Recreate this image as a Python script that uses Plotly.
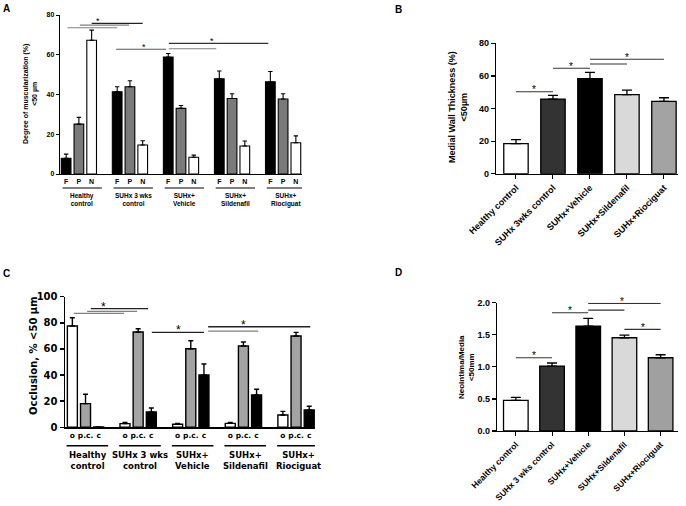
import plotly.graph_objects as go

W, H = 686, 506

# ---------------- data ----------------
# Panel A: degree of muscularization (%) <50 µm
A_groups = ["Healthy<br>control", "SUHx 3 wks<br>control", "SUHx+<br>Vehicle", "SUHx+<br>Sildenafil", "SUHx+<br>Riociguat"]
A_sub = ["F", "P", "N"]
A_F = [7.9, 41.4, 58.9, 47.9, 46.4]
A_F_sem = [2.1, 2.5, 1.7, 3.9, 5.2]
A_P = [25.1, 43.9, 33.0, 38.0, 37.7]
A_P_sem = [3.4, 3.0, 1.5, 2.4, 2.7]
A_N = [67.3, 14.6, 8.4, 14.1, 15.7]
A_N_sem = [5.1, 2.1, 1.1, 2.5, 3.5]
A_yticks = [0, 20, 40, 60, 80]

# Panel B: medial wall thickness (%) <50 µm
B_cats = ["Healthy control", "SUHx 3wks control", "SUHx+Vehicle", "SUHx+Sildenafil", "SUHx+Riociguat"]
B_vals = [18.4, 45.8, 58.3, 48.5, 44.4]
B_sem = [2.5, 2.3, 3.9, 2.8, 2.2]
B_yticks = [0, 20, 40, 60, 80]

# Panel C: occlusion % <50 µm
C_groups = ["Healthy<br>control", "SUHx 3 wks<br>control", "SUHx+<br>Vehicle", "SUHx+<br>Sildenafil", "SUHx+<br>Riociguat"]
C_sub = ["o", "p.c.", "c"]
C_o = [77.6, 2.8, 2.3, 3.0, 9.4]
C_o_sem = [6.3, 1.0, 0.7, 0.8, 2.8]
C_pc = [18.1, 73.0, 60.2, 62.3, 69.9]
C_pc_sem = [7.2, 2.5, 6.1, 3.0, 2.8]
C_c = [0.3, 11.7, 40.0, 24.7, 13.2]
C_c_sem = [0.0, 3.1, 8.5, 4.4, 2.9]
C_yticks = [0, 20, 40, 60, 80, 100]

# Panel D: neointima/media <50 mm
D_cats = ["Healthy control", "SUHx 3 wks control", "SUHx+Vehicle", "SUHx+Sildenafil", "SUHx+Riociguat"]
D_vals = [0.478, 1.012, 1.636, 1.454, 1.142]
D_sem = [0.047, 0.048, 0.119, 0.041, 0.047]
D_yticks = [0.0, 0.5, 1.0, 1.5, 2.0]

# significance brackets (x0, x1, y, color)
A_sig = [(-0.22, 0.75, 73.6, "#808080"), (0.02, 0.98, 74.9, "#808080"), (0.25, 1.25, 75.8, "#222222"),
         (0.73, 1.71, 62.8, "#555555"), (1.76, 3.71, 65.7, "#333333"), (1.76, 2.69, 63.0, "#808080")]
A_star = [(0.37, 75.8), (1.27, 62.8), (2.61, 65.7)]
B_sig = [(0, 1, 50.3), (1, 2, 64.7), (2, 3, 67.3), (2, 4, 70.2)]
B_star = [(0.5, 50.3), (1.5, 64.7), (3.0, 70.2)]
C_sig = [(-0.22, 0.73, 87.3, "#808080"), (0.03, 0.98, 88.8, "#808080"), (0.10, 1.19, 90.8, "#222222"),
         (1.26, 2.25, 72.7, "#222222"), (2.33, 3.28, 73.7, "#808080"), (2.33, 4.27, 77.0, "#222222")]
C_star = [(0.35, 90.8), (1.76, 72.7), (3.0, 77.0)]
D_sig = [(0, 1, 1.142), (1, 2, 1.843), (2, 3, 1.885), (2, 4, 1.99), (3, 4, 1.584)]
D_star = [(0.5, 1.142), (1.5, 1.843), (2.93, 1.99), (3.5, 1.584)]

ARIAL = "Liberation Sans, Arial, sans-serif"
VERD = "DejaVu Sans, Verdana, sans-serif"

def px(x):
    return x / W

def py(y):
    return 1 - y / H

fig = go.Figure()
off = [-0.25, 0.0, 0.25]

def add_bars(xa, ya, vals, sems, xs, colors, width, lw=1.2, cap=2.5):
    fig.add_trace(go.Bar(
        x=xs, y=vals, width=width, xaxis=xa, yaxis=ya, showlegend=False,
        marker=dict(color=colors, line=dict(color="black", width=lw)),
        error_y=dict(type="data", symmetric=False, array=sems, arrayminus=[0] * len(vals),
                     color="black", thickness=lw, width=cap)))

# Panel A bars
for k, (v, s, c) in enumerate([(A_F, A_F_sem, "black"), (A_P, A_P_sem, "#7a7a7a"), (A_N, A_N_sem, "white")]):
    add_bars("x", "y", v, s, [i + off[k] for i in range(5)], c, 0.19, lw=1.1, cap=2.2)
# Panel B bars
add_bars("x2", "y2", B_vals, B_sem, list(range(5)), ["white", "#333333", "black", "#d9d9d9", "#a3a3a3"], 0.66, lw=1.3, cap=5)
# Panel C bars
for k, (v, s, c) in enumerate([(C_o, C_o_sem, "white"), (C_pc, C_pc_sem, "#a3a3a3"), (C_c, C_c_sem, "black")]):
    add_bars("x3", "y3", v, s, [i + off[k] for i in range(5)], c, 0.19, lw=1.4, cap=2.5)
# Panel D bars
add_bars("x4", "y4", D_vals, D_sem, list(range(5)), ["white", "#333333", "black", "#d9d9d9", "#a0a0a0"], 0.68, lw=1.3, cap=5)

A_tv = [i + off[k] for i in range(5) for k in range(3)]
A_tt = [A_sub[k] for i in range(5) for k in range(3)]
C_tt = [C_sub[k] for i in range(5) for k in range(3)]

common_x = dict(showline=True, linecolor="black", showgrid=False, zeroline=False, fixedrange=True, automargin=False)
common_y = dict(showline=True, linecolor="black", showgrid=False, zeroline=False, ticks="outside",
                tickcolor="black", fixedrange=True, automargin=False)

fig.update_layout(
    template="none",
    width=W, height=H, margin=dict(l=0, r=0, t=0, b=0, autoexpand=False),
    paper_bgcolor="white", plot_bgcolor="white", barmode="overlay", bargap=0, showlegend=False,
    xaxis=dict(common_x, domain=[px(60), px(302)], range=[-0.37, 4.37], anchor="y", linewidth=1.2,
               tickvals=A_tv, ticktext=A_tt, ticks="", tickangle=0,
               tickfont=dict(family=ARIAL, size=7, color="black", weight="bold")),
    yaxis=dict(common_y, domain=[py(174), py(15)], range=[0, 80], anchor="x", linewidth=1.2, ticklen=3,
               tickwidth=1, tickvals=A_yticks, tickfont=dict(family=ARIAL, size=7, color="black", weight="bold")),
    xaxis2=dict(common_x, domain=[px(496), px(678)], range=[-0.54, 4.38], anchor="y2", linewidth=1.3,
                tickvals=list(range(5)), ticktext=B_cats, ticks="outside", ticklen=4, tickcolor="black",
                tickangle=-45, tickfont=dict(family=ARIAL, size=9, color="black", weight="bold")),
    yaxis2=dict(common_y, domain=[py(173.7), py(43.3)], range=[0, 80], anchor="x2", linewidth=1.3, ticklen=4,
                tickwidth=1.2, tickvals=B_yticks, tickfont=dict(family=ARIAL, size=9, color="black", weight="bold")),
    xaxis3=dict(common_x, domain=[px(65), px(315)], range=[-0.39, 4.36], anchor="y3", linewidth=1.5,
                tickvals=A_tv, ticktext=C_tt, ticks="", tickangle=0,
                tickfont=dict(family=VERD, size=7.5, color="black", weight="bold")),
    yaxis3=dict(common_y, domain=[py(427.3), py(296.7)], range=[0, 100], anchor="x3", linewidth=1.5, ticklen=4,
                tickwidth=1.5, tickvals=C_yticks, tickfont=dict(family=VERD, size=10, color="black", weight="bold")),
    xaxis4=dict(common_x, domain=[px(497), px(678)], range=[-0.52, 4.48], anchor="y4", linewidth=1.3,
                tickvals=list(range(5)), ticktext=D_cats, ticks="outside", ticklen=4, tickcolor="black",
                tickangle=-45, tickfont=dict(family=ARIAL, size=8.5, color="black", weight="bold")),
    yaxis4=dict(common_y, domain=[py(431), py(302.7)], range=[0, 2.0], anchor="x4", linewidth=1.3, ticklen=4,
                tickwidth=1.2, tickvals=D_yticks, tickformat=".1f",
                tickfont=dict(family=ARIAL, size=9, color="black", weight="bold")),
)

shapes = []
ann = []

def line(xr, yr, x0, x1, y0, y1, color, w):
    shapes.append(dict(type="line", xref=xr, yref=yr, x0=x0, x1=x1, y0=y0, y1=y1,
                       line=dict(color=color, width=w)))

def star(xr, yr, x, y, size):
    ann.append(dict(text="*", x=x, y=y, xref=xr, yref=yr, showarrow=False, xanchor="center",
                    yanchor="middle", yshift=2, font=dict(family=ARIAL, size=size, color="black")))

for x0, x1, y, c in A_sig:
    line("x", "y", x0, x1, y, y, c, 1.1)
for x, y in A_star:
    star("x", "y", x, y, 9)
for x0, x1, y in B_sig:
    line("x2", "y2", x0, x1, y, y, "#333333", 1.1)
for x, y in B_star:
    star("x2", "y2", x, y, 10)
for x0, x1, y, c in C_sig:
    line("x3", "y3", x0, x1, y, y, c, 1.3)
for x, y in C_star:
    star("x3", "y3", x, y, 12)
for x0, x1, y in D_sig:
    line("x4", "y4", x0, x1, y, y, "#333333", 1.1)
for x, y in D_star:
    star("x4", "y4", x, y, 10)

# group underlines and names
for i, g in enumerate(A_groups):
    line("x", "paper", i - 0.32, i + 0.45, py(188), py(188), "black", 1.1)
    ann.append(dict(text=g, x=i + 0.06, y=py(190), xref="x", yref="paper", showarrow=False,
                    xanchor="center", yanchor="top",
                    font=dict(family=ARIAL, size=6.5, color="black", weight="bold")))
for i, g in enumerate(C_groups):
    line("x3", "paper", i - 0.36, i + 0.43, py(445.7), py(445.7), "black", 1.6)
    ann.append(dict(text=g, x=i + 0.04, y=py(448), xref="x3", yref="paper", showarrow=False,
                    xanchor="center", yanchor="top",
                    font=dict(family=VERD, size=8.5, color="black", weight="bold")))

# y-axis titles
ann.append(dict(text="Degree of muscularization (%)<br><50 µm", x=px(30), y=py(94), xref="paper", yref="paper",
                showarrow=False, textangle=-90, xanchor="center", yanchor="middle",
                font=dict(family=ARIAL, size=7, color="black", weight="bold")))
ann.append(dict(text="Medial Wall Thickness (%)<br><50µm", x=px(458), y=py(107), xref="paper", yref="paper",
                showarrow=False, textangle=-90, xanchor="center", yanchor="middle",
                font=dict(family=ARIAL, size=9, color="black", weight="bold")))
ann.append(dict(text="Occlusion, % <50 µm", x=px(33), y=py(356), xref="paper", yref="paper",
                showarrow=False, textangle=-90, xanchor="center", yanchor="middle",
                font=dict(family=VERD, size=10, color="black", weight="bold")))
ann.append(dict(text="Neointima/Media<br><50mm", x=px(466), y=py(367), xref="paper", yref="paper",
                showarrow=False, textangle=-90, xanchor="center", yanchor="middle",
                font=dict(family=ARIAL, size=8, color="black", weight="bold")))

# panel letters
for letter, x, y in [("A", 7, 8.5), ("B", 398, 10), ("C", 7, 273.5), ("D", 398, 272)]:
    ann.append(dict(text=letter, x=px(x), y=py(y), xref="paper", yref="paper", showarrow=False,
                    xanchor="center", yanchor="middle",
                    font=dict(family=ARIAL, size=10, color="black", weight="bold")))

fig.update_layout(shapes=shapes, annotations=ann)
fig.write_html("out.html", config={"displayModeBar": False, "staticPlot": True},
               post_script="document.body.style.margin='0';document.body.style.overflow='hidden';")
